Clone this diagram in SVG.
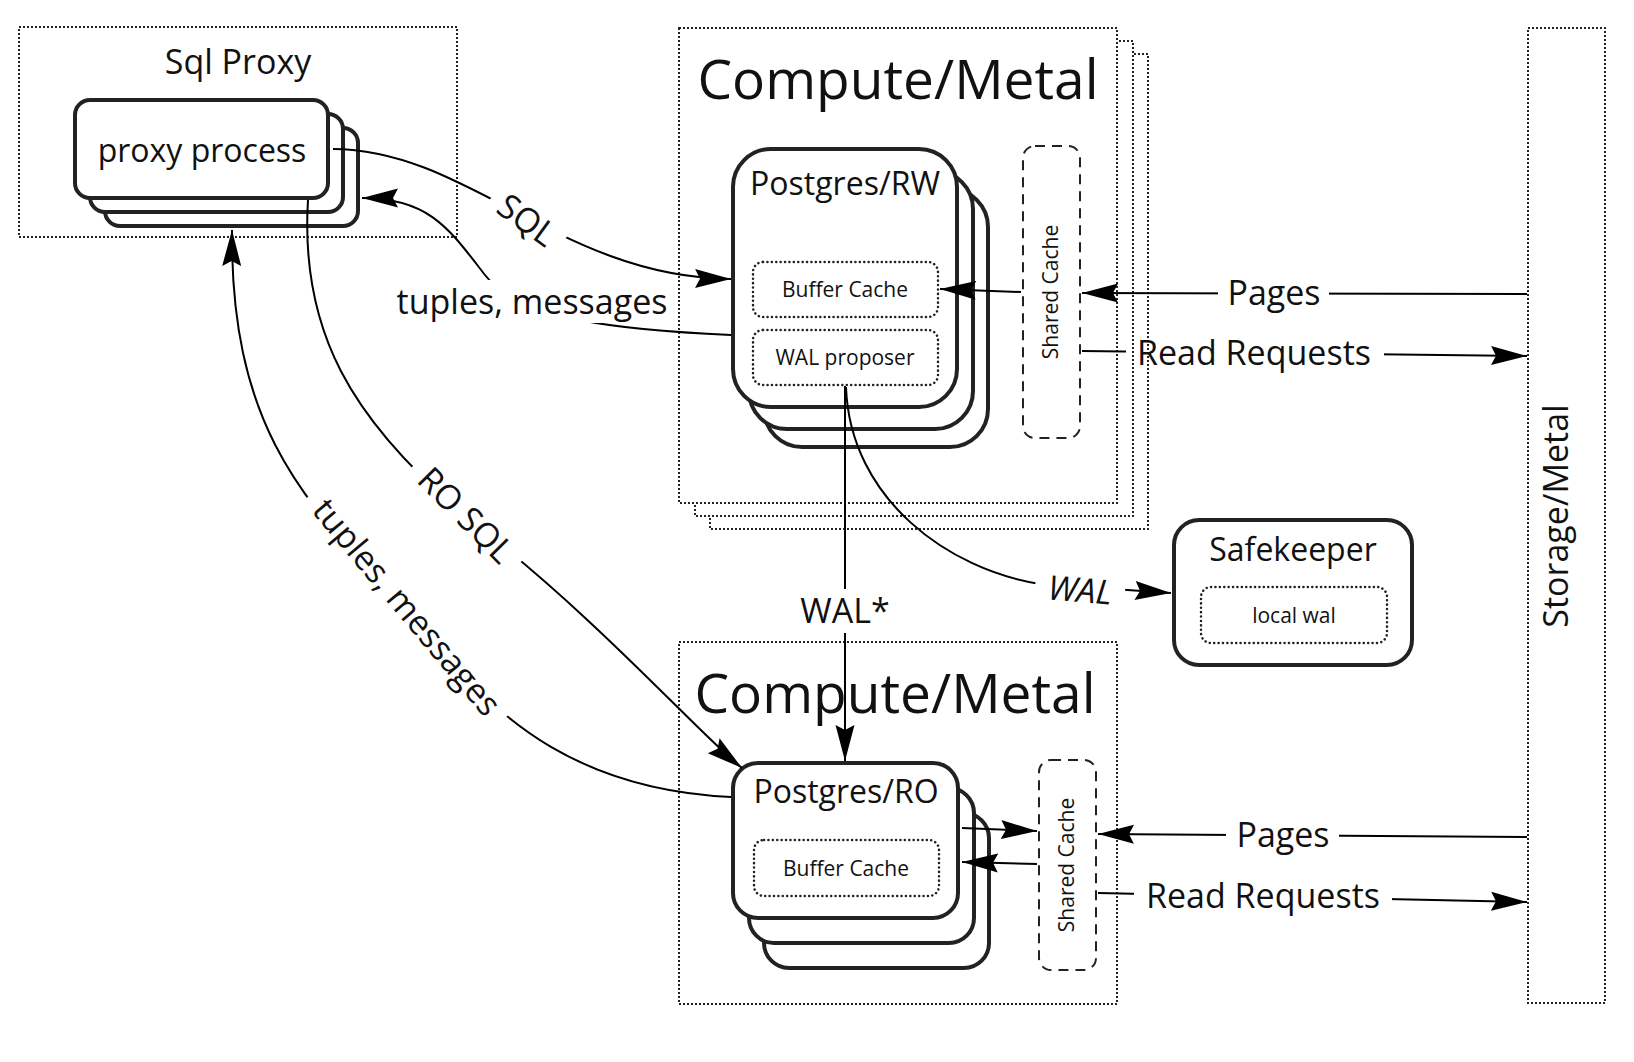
<svg xmlns="http://www.w3.org/2000/svg" width="1634" height="1062" viewBox="0 0 1634 1062">
<style>
text{font-family:"Open Sans","Noto Sans","DejaVu Sans",sans-serif;fill:#111}
.cont{fill:#fff;stroke:#222;stroke-width:2;stroke-dasharray:2 2}
.node{fill:#fff;stroke:#222;stroke-width:4}
.inner{fill:none;stroke:#222;stroke-width:2.5;stroke-dasharray:0.1 4.3;stroke-linecap:round}
.sc{fill:none;stroke:#222;stroke-width:2;stroke-dasharray:10 7}
.big{font-size:55px;text-anchor:middle}
.nl{font-size:32px;text-anchor:middle}
.sm{font-size:21px;text-anchor:middle}
.lbl{font-size:34px;text-anchor:middle}
.conn path{fill:none;stroke:#000;stroke-width:2}
.arr{marker-end:url(#ah)}
</style>
<defs>
<marker id="ah" markerUnits="userSpaceOnUse" viewBox="0 -11 40 22" markerWidth="40" markerHeight="22" refX="36" refY="0" orient="auto">
<path d="M0,-9.5 L36,0 L0,9.5 L5,0 Z" fill="#000"/>
</marker>
<mask id="gaps" maskUnits="userSpaceOnUse" x="0" y="0" width="1634" height="1062">
<rect x="0" y="0" width="1634" height="1062" fill="#fff"/>
<rect x="-42" y="-22" width="84" height="44" transform="translate(527,220) rotate(36)" fill="#000"/>
<rect x="385" y="280" width="295" height="43" fill="#000"/>
<rect x="-72" y="-24" width="144" height="48" transform="translate(466,515) rotate(45)" fill="#000"/>
<rect x="-148" y="-24" width="296" height="48" transform="translate(407,607) rotate(50)" fill="#000"/>
<rect x="789" y="589" width="112" height="44" fill="#000"/>
<rect x="-45" y="-20" width="90" height="40" transform="translate(1080,590) rotate(5)" fill="#000"/>
<rect x="1218" y="278" width="111" height="30" fill="#000"/>
<rect x="1126" y="338" width="258" height="32" fill="#000"/>
<rect x="1226" y="822" width="113" height="28" fill="#000"/>
<rect x="1134" y="880" width="258" height="32" fill="#000"/>
</mask>
</defs>

<g id="sql-proxy">
<rect class="cont" x="19" y="27" width="438" height="210"/>
<text x="238" y="74" style="font-size:34px;text-anchor:middle">Sql Proxy</text>
</g>

<g id="compute-rw">
<rect class="cont" x="710" y="54" width="438" height="475"/>
<rect class="cont" x="695" y="41" width="438" height="475"/>
<rect class="cont" x="679" y="28" width="438" height="475"/>
<text class="big" x="898" y="99">Compute/Metal</text>
</g>

<g id="compute-ro">
<rect class="cont" x="679" y="642" width="438" height="362"/>
<text class="big" x="895" y="713">Compute/Metal</text>
</g>

<g id="storage">
<rect class="cont" x="1528" y="28" width="77" height="975"/>
<text class="lbl" transform="translate(1556,516) rotate(-90)" x="0" y="12">Storage/Metal</text>
</g>

<g id="proxy-process">
<rect class="node" x="105" y="128" width="253" height="98" rx="15"/>
<rect class="node" x="90" y="114" width="253" height="98" rx="15"/>
<rect class="node" x="75" y="100" width="253" height="98" rx="15"/>
<text class="nl" x="202" y="162">proxy process</text>
</g>

<g id="postgres-rw">
<rect class="node" x="764" y="189" width="224" height="258" rx="38"/>
<rect class="node" x="749" y="171" width="224" height="258" rx="38"/>
<rect class="node" x="733" y="149" width="224" height="258" rx="38"/>
<text class="nl" x="845" y="195">Postgres/RW</text>
</g>
<g id="buffer-cache-rw">
<rect class="inner" x="753" y="262" width="185" height="55" rx="10"/>
<text class="sm" x="845" y="297">Buffer Cache</text>
</g>
<g id="wal-proposer">
<rect class="inner" x="753" y="330" width="185" height="55" rx="10"/>
<text class="sm" x="845" y="365">WAL proposer</text>
</g>
<g id="shared-cache-rw">
<rect class="sc" x="1023" y="146" width="57" height="292" rx="12"/>
<text class="sm" transform="translate(1051,292) rotate(-90)" x="0" y="7">Shared Cache</text>
</g>

<g id="safekeeper">
<rect class="node" x="1174" y="520" width="238" height="145" rx="25"/>
<text class="nl" x="1293" y="561">Safekeeper</text>
</g>
<g id="local-wal">
<rect class="inner" x="1201" y="587" width="186" height="56" rx="10"/>
<text class="sm" x="1294" y="623">local wal</text>
</g>

<g id="postgres-ro">
<rect class="node" x="764" y="813" width="225" height="155" rx="25"/>
<rect class="node" x="749" y="788" width="225" height="155" rx="25"/>
<rect class="node" x="733" y="763" width="225" height="155" rx="25"/>
<text class="nl" x="846" y="803">Postgres/RO</text>
</g>
<g id="buffer-cache-ro">
<rect class="inner" x="754" y="840" width="185" height="56" rx="10"/>
<text class="sm" x="846" y="876">Buffer Cache</text>
</g>
<g id="shared-cache-ro">
<rect class="sc" x="1039" y="760" width="57" height="210" rx="12"/>
<text class="sm" transform="translate(1067,865) rotate(-90)" x="0" y="7">Shared Cache</text>
</g>

<g id="connectors" class="conn" mask="url(#gaps)">
<path class="arr" d="M333,149 C470,150 560,277 731,279"/>
<path class="arr" d="M731,335 C620,330 520,320 485,275 C450,230 430,198 362,198"/>
<path class="arr" d="M308,200 C300,330 350,420 470,520 C600,620 700,735 742,768"/>
<path class="arr" d="M731,797 C580,790 500,720 440,650 C330,520 230,460 232,230"/>
<path class="arr" d="M845,386 L845,761"/>
<path class="arr" d="M846,387 C850,500 950,570 1040,584 L1171,593"/>
<path class="arr" d="M1021,292 L940,289"/>
<path class="arr" d="M1527,294 L1082,293"/>
<path class="arr" d="M1082,351 L1527,356"/>
<path class="arr" d="M962,828 L1037,831"/>
<path class="arr" d="M1037,864 L962,862"/>
<path class="arr" d="M1527,837 L1098,834"/>
<path class="arr" d="M1098,893 L1527,902"/>
</g>

<g id="labels">
<text class="lbl" transform="translate(527,220) rotate(36)" x="0" y="12">SQL</text>
<text class="lbl" x="532" y="314">tuples, messages</text>
<text class="lbl" transform="translate(466,515) rotate(45)" x="0" y="12">RO SQL</text>
<text class="lbl" transform="translate(407,607) rotate(50)" x="0" y="12">tuples, messages</text>
<text class="lbl" x="845" y="623">WAL*</text>
<text class="lbl" transform="translate(1080,590) rotate(5)" x="0" y="12" font-style="italic">WAL</text>
<text class="lbl" x="1274" y="305">Pages</text>
<text class="lbl" x="1254" y="365">Read Requests</text>
<text class="lbl" x="1283" y="847">Pages</text>
<text class="lbl" x="1263" y="908">Read Requests</text>
</g>
</svg>
